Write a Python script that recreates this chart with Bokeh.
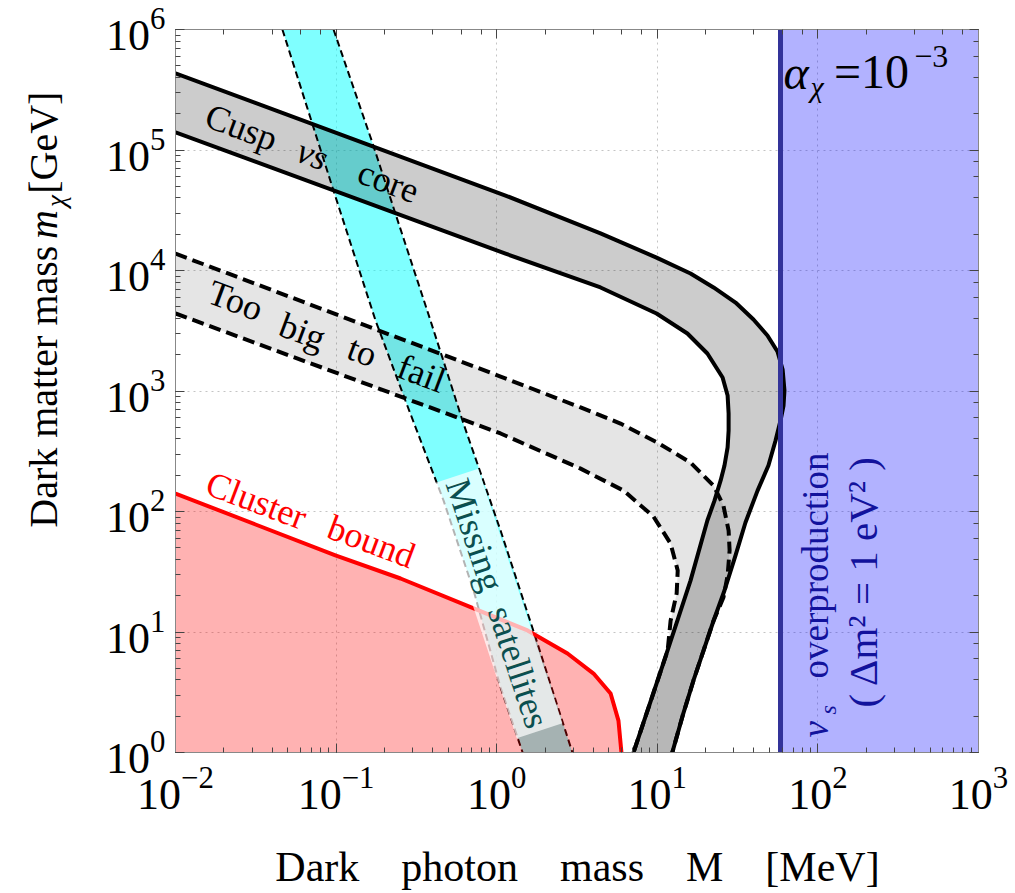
import numpy as np
from bokeh.plotting import figure
from bokeh.models import Range1d, LogAxis, Label, CustomJSTickFormatter, LogTicker
from bokeh.layouts import row, column
from bokeh.core.properties import value
from bokeh.embed import file_html
from bokeh.resources import INLINE

# ---------------- data (dark photon mass M [MeV], dark matter mass m_chi [GeV]) ----------------
# Cusp vs core band (solid borders)
cusp_outer_M = [0.01, 1.135, 4.43, 9.89, 16.1, 22.4, 30.7, 39.7, 48.5, 56.0, 60.3, 61.9, 61.1, 58.5,
                54.5, 49.2, 42.1, 35.4, 30.7, 26.2, 22.4, 19.4, 16.8, 14.4, 12.4]
cusp_outer_m = [4.32e5, 4.19e4, 2.03e4, 1.28e4, 9440, 7230, 5420, 3920, 2890, 2128, 1508, 1009, 758, 569,
                388, 241, 149, 81.1, 43.2, 22.1, 12.4, 7.02, 3.96, 2.03, 1.0]
cusp_inner_M = [0.01, 1.135, 4.43, 9.89, 15.4, 20.5, 25.5, 27.4, 27.8, 27.8, 27.4, 26.2, 24.8, 22.7,
                20.5, 16.1, 10.9, 7.11]
cusp_inner_m = [1.40e5, 1.38e4, 7230, 4400, 3000, 2048, 1294, 918, 651, 470, 340, 241, 181, 123,
                84.2, 26.7, 5.48, 1.0]

# Too big to fail band (dashed borders)
tbtf_upper_M = [0.01, 1.057, 3.33, 5.90, 10.0, 16.1, 22.4, 25.8, 27.8, 28.2, 27.4, 25.8, 22.4,
                19.4, 16.8, 14.4, 12.4]
tbtf_upper_m = [1.38e4, 1319, 730, 537, 374, 255, 164, 112, 69.5, 47.5, 29.4, 19.3, 12.4,
                7.02, 3.96, 2.03, 1.0]
tbtf_lower_M = [0.01, 1.057, 3.33, 6.17, 9.46, 12.1, 13.4, 13.2, 12.1, 11.6, 10.9, 7.11]
tbtf_lower_m = [4400, 444, 227, 149, 90.9, 54.2, 32.4, 20.9, 12.4, 7.02, 5.48, 1.0]

# Missing satellites band (dashed borders)
ms_left_M = [0.0463, 0.0723, 0.0950, 0.176, 0.270, 0.467, 0.718, 1.057, 1.45]
ms_left_m = [1e6, 1.54e5, 4.88e4, 3846, 834, 123, 22.1, 3.46, 1.0]
ms_right_M = [0.0964, 0.169, 0.234, 0.387, 0.621, 1.057, 1.69, 2.96]
ms_right_m = [1e6, 1.13e5, 2.97e4, 3846, 537, 69.5, 10.3, 1.0]

# Cluster bound
cluster_M = [0.01, 0.0315, 0.099, 0.252, 0.771, 1.556, 2.76, 4.01, 5.12, 5.73, 5.98]
cluster_m = [141, 78, 43.2, 27.8, 15.1, 10.3, 6.63, 4.52, 3.09, 1.84, 1.0]

# nu_s overproduction bound
nu_bound_M = 58.5

x_lo, x_hi = 1e-2, 1e3
y_lo, y_hi = 1e0, 1e6

SERIF = "Liberation Serif"
LEFT_W = 80
MAIN_H = 830
TOTAL_W = 1008
BOTTOM_H = 62

p = figure(width=TOTAL_W - LEFT_W, height=MAIN_H, x_axis_type="log", y_axis_type="log",
           x_range=Range1d(x_lo, x_hi), y_range=Range1d(y_lo, y_hi),
           output_backend="svg", toolbar_location=None,
           min_border_left=175 - LEFT_W, min_border_right=30, min_border_top=29,
           min_border_bottom=MAIN_H - 752)
p.background_fill_color = "white"
p.border_fill_color = "white"
p.outline_line_color = "#888888"

# grid
p.grid.grid_line_color = "#c4c4c4"
p.grid.grid_line_dash = "2 4"
p.grid.grid_line_width = 1

# --------------- fills ---------------
p.patch(ms_left_M + ms_right_M[::-1], ms_left_m + ms_right_m[::-1],
        fill_color="cyan", fill_alpha=0.5, line_color=None)
p.line(ms_left_M, ms_left_m, line_color="black", line_width=2, line_dash="7 4")
p.line(ms_right_M, ms_right_m, line_color="black", line_width=2, line_dash="7 4")

p.patch(cluster_M + [x_lo], cluster_m + [y_lo], fill_color="red", fill_alpha=0.3, line_color=None)

p.patch(tbtf_upper_M + tbtf_lower_M[::-1], tbtf_upper_m + tbtf_lower_m[::-1],
        fill_color="black", fill_alpha=0.1, line_color=None)
p.patch(cusp_outer_M + cusp_inner_M[::-1], cusp_outer_m + cusp_inner_m[::-1],
        fill_color="black", fill_alpha=0.2, line_color=None)

p.quad(left=[nu_bound_M], right=[x_hi], bottom=[y_lo], top=[y_hi],
       fill_color="blue", fill_alpha=0.3, line_color=None)

# --------------- lines ---------------
p.line(tbtf_upper_M, tbtf_upper_m, line_color="black", line_width=4, line_dash="12 6")
p.line(tbtf_lower_M, tbtf_lower_m, line_color="black", line_width=4, line_dash="12 6")
p.line(cusp_outer_M, cusp_outer_m, line_color="black", line_width=4, line_join="round")
p.line(cusp_inner_M, cusp_inner_m, line_color="black", line_width=4, line_join="round")
p.line(cluster_M, cluster_m, line_color="red", line_width=4, line_join="round")
p.line([nu_bound_M, nu_bound_M], [y_lo, y_hi], line_color="#333399", line_width=5)

# --------------- axes ---------------
for ax in [p.xaxis[0], p.yaxis[0]]:
    ax.major_label_text_font = SERIF
    ax.major_label_text_font_size = "44px"
    ax.major_label_text_color = "black"
p.xaxis.major_label_standoff = 15
p.yaxis.major_label_standoff = 10

for loc in ["above", "right"]:
    extra = LogAxis(ticker=LogTicker(), formatter=CustomJSTickFormatter(code="return ''"))
    p.add_layout(extra, loc)

for ax in p.axis:
    ax.axis_line_color = "#888888"
    ax.major_tick_line_color = "#444444"
    ax.minor_tick_line_color = "#444444"
    ax.major_tick_in = 9
    ax.major_tick_out = 0
    ax.minor_tick_in = 5
    ax.minor_tick_out = 0

# --------------- text inside the frame (anchored at the text centre) ---------------
def lab(x, y, text, size, angle=0.0, color="black", style="normal", align="center", **kw):
    l = Label(x=x, y=y, text=text, text_font=SERIF, text_font_size=f"{size}px",
              text_color=color, text_font_style=style, angle=angle,
              text_align=align, text_baseline="middle", **kw)
    p.add_layout(l)
    return l

band_angle = np.deg2rad(-20.5)
lab(10**-1.589, 10**5.187, "Cusp", 36, band_angle)
lab(10**-1.147, 10**4.963, "vs", 36, band_angle, style="italic")
lab(10**-0.674, 10**4.739, "core", 36, band_angle)

lab(10**-1.626, 10**3.751, "Too", 36, band_angle)
lab(10**-1.209, 10**3.494, "big", 36, band_angle)
lab(10**-0.836, 10**3.328, "to", 36, band_angle)
lab(10**-0.468, 10**3.145, "fail", 36, band_angle)

lab(10**-1.496, 10**2.091, "Cluster", 36, band_angle, color="red")
lab(10**-0.780, 10**1.751, "bound", 36, band_angle, color="red")

lab(10**0.005, 10**1.237, "Missing\u2002satellites", 36, np.deg2rad(-71.7), color="#0b4f4f",
    background_fill_color="white", background_fill_alpha=0.7, padding=4)

up = np.pi / 2
blue_txt = "#12129c"
lab(10**1.985, 10**0.124, "\u03bd", 37, up, color=blue_txt, style="italic", align="left")
lab(10**2.060, 10**0.315, "s", 24, up, color=blue_txt, style="italic", align="left")
lab(10**1.985, 10**0.614, "overproduction", 37, up, color=blue_txt, align="left")
lab(10**2.278, 10**0.373, "( \u0394m\u00b2 = 1 eV\u00b2 )", 41, up, color=blue_txt, align="left")

lab(10**1.786, 10**5.643, "\u03b1", 48, style="italic", align="left")
lab(10**1.954, 10**5.527, "\u03c7", 30, style="italic", align="left")
lab(10**2.100, 10**5.651, "=10", 48, align="left")
lab(10**2.600, 10**5.776, "\u22123", 32, align="left")

# --------------- axis titles (own small text panels, page pixel coordinates) ---------------
def text_panel(w, h, x0, y0):
    f = figure(width=w, height=h, x_range=Range1d(x0, x0 + w), y_range=Range1d(y0 + h, y0),
               output_backend="svg", toolbar_location=None, min_border=0,
               x_axis_location=None, y_axis_location=None)
    f.grid.visible = False
    f.outline_line_color = None
    f.background_fill_color = "white"
    f.border_fill_color = "white"
    return f

up_txt = dict(angle=up, text_font=value(SERIF), text_align="center", text_baseline="middle",
              text_color="black")
left = text_panel(LEFT_W, MAIN_H, 0, 0)
left.text(x=[43], y=[410], text=["Dark matter mass"], text_font_size="40px", **up_txt)
left.text(x=[43], y=[224], text=["m"], text_font_style="italic", text_font_size="40px", **up_txt)
left.text(x=[55], y=[197], text=["\u03c7"], text_font_style="italic", text_font_size="27px", **up_txt)
left.text(x=[43], y=[130], text=["[GeV]"], text_font_size="40px", **up_txt)

bottom = text_panel(TOTAL_W, BOTTOM_H, 0, MAIN_H)
bottom.text(x=[577], y=[866], text=["Dark\u2003photon\u2003mass\u2003M\u2003[MeV]"], text_font=value(SERIF),
            text_font_size="42px", text_align="center", text_baseline="middle", text_color="black")

layout = column(row(left, p), bottom)
open("out.html", "w").write(file_html(layout, INLINE))
